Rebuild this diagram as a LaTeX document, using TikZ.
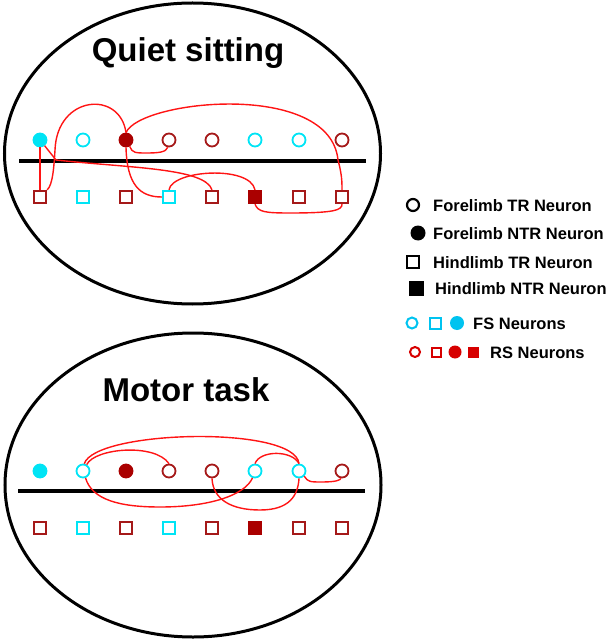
\documentclass[tikz,border=0pt]{standalone}
\usepackage{fontspec}
\setmainfont{Liberation Sans}
\usepackage{tikz}
\definecolor{fscol}{RGB}{0,228,245}
\definecolor{rscol}{RGB}{165,25,25}
\definecolor{rsdark}{RGB}{170,0,0}
\definecolor{linkred}{RGB}{255,20,20}
\definecolor{legfs}{RGB}{0,195,240}
\definecolor{legrs}{RGB}{215,0,0}

\begin{document}
\begin{tikzpicture}[x=1pt,y=-1pt,
  fore/.style={circle,minimum size=13pt,inner sep=0pt,line width=1.8pt},
  hind/.style={rectangle,minimum size=12.5pt,inner sep=0pt,line width=1.8pt},
  fsopen/.style={draw=fscol},
  fsfill/.style={draw=fscol,fill=fscol},
  rsopen/.style={draw=rscol},
  rsfill/.style={draw=rsdark,fill=rsdark},
  link/.style={draw=linkred,line width=1.4pt},
  title/.style={font=\fontsize{33}{38}\selectfont\bfseries},
  legend/.style={anchor=base west,inner sep=0pt,font=\fontsize{16.5}{19}\selectfont\bfseries}]
\useasboundingbox (0,0) rectangle (609,639);
\draw[line width=3pt] (192.5,153.5) ellipse [x radius=188,y radius=150.5];
\draw[line width=3pt] (193,485) ellipse [x radius=188,y radius=152];
\node[title,anchor=base] (quiet) at (188,62) {Quiet sitting};
\node[title,anchor=base] (motor) at (186,401) {Motor task};
\draw[line width=3.6pt] (19,161) -- (366,161);
\draw[line width=3.6pt] (18,491) -- (365,491);
\foreach \p/\y in {q/140,m/471} {
  \foreach \i/\x/\st in {1/40/fsfill,2/83/fsopen,3/126/rsfill,4/169/rsopen,5/212/rsopen,6/255/fsopen,7/299/fsopen,8/342/rsopen}
    \node[fore,\st] (\p c\i) at (\x,\y) {};
  \foreach \i/\x/\st in {1/40/rsopen,2/83/fsopen,3/126/rsopen,4/169/fsopen,5/212/rsopen,6/255/rsfill,7/299/rsopen,8/342/rsopen}
    \node[hind,\st] (\p s\i) at (\x,{\y+57}) {};
}
\node[fore,draw,line width=2.2pt,minimum size=12pt] (ltr) at (413,205) {};
\node[legend] (ltrtext) at (433,211) {Forelimb TR Neuron};
\node[fore,fill,line width=0pt,minimum size=15pt] (lntr) at (418,233) {};
\node[legend] (lntrtext) at (433,239) {Forelimb NTR Neuron};
\node[hind,draw,line width=2pt,minimum size=12pt] (lhtr) at (413,262) {};
\node[legend] (lhtrtext) at (433,268) {Hindlimb TR Neuron};
\node[hind,fill,line width=0pt,minimum size=15pt] (lhntr) at (416,288) {};
\node[legend] (lhntrtext) at (435,294) {Hindlimb NTR Neuron};
\node[fore,draw=legfs,line width=2pt,minimum size=11pt] (lfs1) at (412,323) {};
\node[hind,draw=legfs,line width=2pt,minimum size=11pt] (lfs2) at (435,323) {};
\node[fore,fill=legfs,line width=0pt,minimum size=14pt] (lfs3) at (457,323) {};
\node[legend] (lfstext) at (473,329) {FS Neurons};
\node[fore,draw=legrs,line width=2pt,minimum size=10pt] (lrs1) at (415,352) {};
\node[hind,draw=legrs,line width=2pt,minimum size=9pt] (lrs2) at (436,352) {};
\node[fore,fill=legrs,line width=0pt,minimum size=13pt] (lrs3) at (455,352) {};
\node[hind,fill=legrs,line width=0pt,minimum size=11pt] (lrs4) at (473,352) {};
\node[legend] (lrstext) at (490,358) {RS Neurons};
\draw[link] (qc1) -- (qs1);
\draw[link] (qc1.-51) -- (56,160) .. controls (130,168) and (205,168) .. (qs5.north);
\draw[link] (qs1.north east) .. controls (53,185) and (54,165) .. (55,150) .. controls (57,95) and (120,90) .. (qc3.north);
\draw[link] (qc3.north) .. controls (140,100) and (330,80) .. (338,160) .. controls (342,175) and (342,182) .. (qs8.north);
\draw[link] (qc3.-60) .. controls (132,153) and (136,153) .. (146,153) .. controls (160,153) and (166,152) .. (qc4.-100);
\draw[link] (qc3.south) .. controls (127,185) and (140,197) .. (qs4.west);
\draw[link] (qs4.north) .. controls (172,170) and (250,165) .. (qs6.north);
\draw[link] (qs6.south) .. controls (258,212) and (265,213) .. (290,213) .. controls (335,213) and (342,210) .. (qs8.south);
\draw[link] (mc2.60) .. controls (95,448) and (155,443) .. (mc4.north);
\draw[link] (mc2.80) .. controls (95,430) and (295,425) .. (mc7.north);
\draw[link] (mc2.-70) .. controls (92,500) and (120,507) .. (160,507) .. controls (210,507) and (245,495) .. (mc6.-110);
\draw[link] (mc5.south) .. controls (213,500) and (232,510) .. (260,510) .. controls (290,510) and (298,495) .. (mc7.south);
\draw[link] (mc6.north) .. controls (260,450) and (292,450) .. (mc7.north);
\draw[link] (mc7.-45) .. controls (308,482) and (310,482) .. (322,482) .. controls (336,482) and (341,480) .. (mc8.-100);
\end{tikzpicture}
\end{document}
